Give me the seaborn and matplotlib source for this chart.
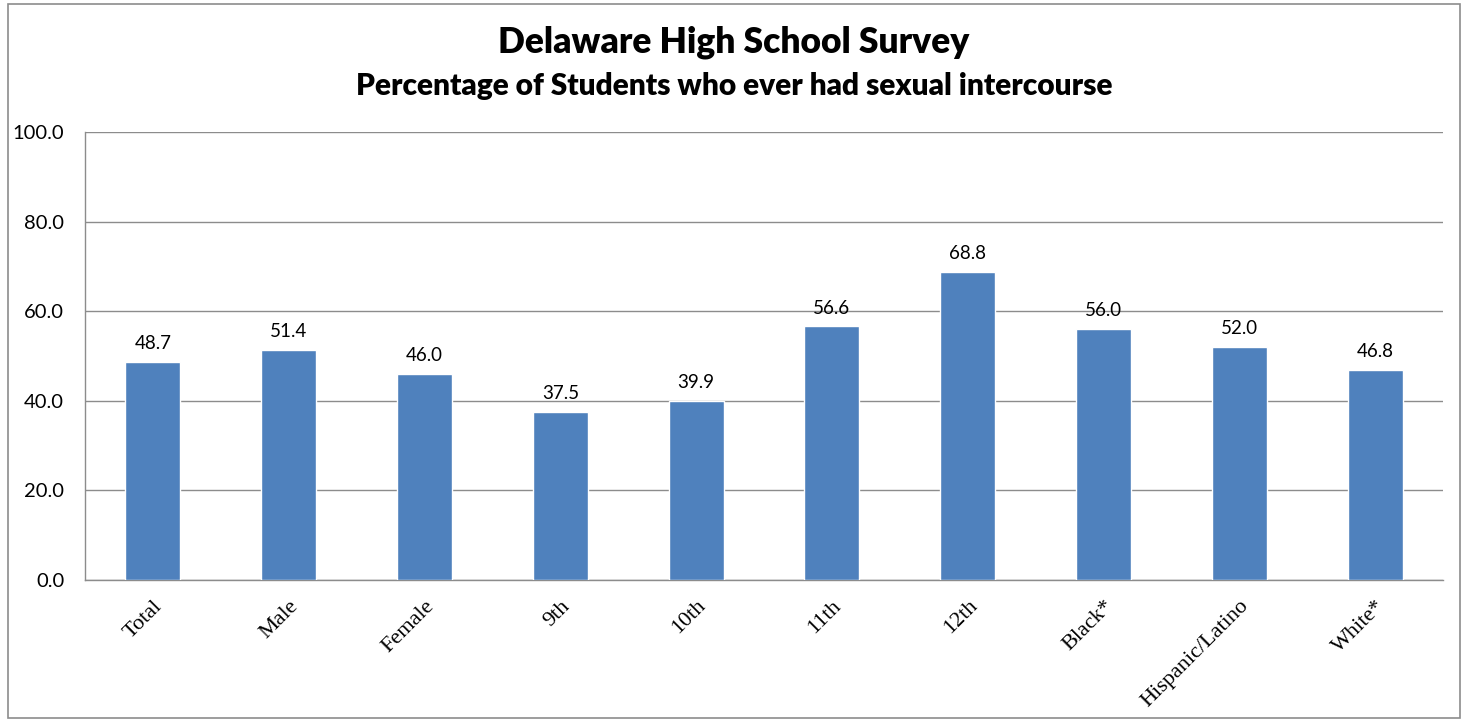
import numpy as np
import pandas as pd
import matplotlib
matplotlib.use("Agg")
import matplotlib.pyplot as plt
import seaborn as sns
from matplotlib.patches import Rectangle

# data
groups = ['Total', 'Male', 'Female', '9th', '10th', '11th', '12th',
          'Black*', 'Hispanic/Latino', 'White*']
percent = [48.7, 51.4, 46.0, 37.5, 39.9, 56.6, 68.8, 56.0, 52.0, 46.8]
y_ticks = [0, 20, 40, 60, 80, 100]

title = 'Delaware High School Survey'
subtitle = 'Percentage of Students who ever had sexual intercourse'

df = pd.DataFrame({'group': groups, 'percent': percent})

sns.set_style('white')
plt.rcParams['font.family'] = ['Lato', 'DejaVu Sans']
plt.rcParams['text.color'] = 'black'
plt.rcParams['xtick.color'] = 'black'
plt.rcParams['ytick.color'] = 'black'

fig = plt.figure(figsize=(14.68, 7.22), dpi=100)
ax = fig.add_axes([85 / 1468, 1 - 580 / 722, (1443 - 85) / 1468, (580 - 132) / 722])

sns.barplot(data=df, x='group', y='percent', color='#4F81BD', saturation=1,
            width=0.405, ax=ax, zorder=3)

ax.set_ylim(0, 100)
ax.set_xlim(-0.5, len(groups) - 0.5)
ax.set_yticks(y_ticks)
ax.set_yticklabels([f'{v:.1f}' for v in y_ticks], fontsize=14.5)
ax.yaxis.grid(True, color='#8c8c8c', linewidth=1.0, zorder=0)
ax.set_xlabel('')
ax.set_ylabel('')

for side in ['top', 'right']:
    ax.spines[side].set_visible(False)
for side in ['left', 'bottom']:
    ax.spines[side].set_color('#8c8c8c')
    ax.spines[side].set_linewidth(1.0)

# category labels, serif, rotated
ax.set_xticks(range(len(groups)))
ax.set_xticklabels(groups, rotation=45, ha='right', rotation_mode='anchor',
                   family=['Liberation Serif'], fontsize=16)
ax.tick_params(axis='x', which='major', length=0, pad=12)
ax.set_xticks(np.arange(-0.5, len(groups), 1), minor=True)
ax.tick_params(axis='x', which='minor', length=6, color='#8c8c8c', width=1)
ax.tick_params(axis='y', length=6, color='#8c8c8c', labelcolor='black', width=1, pad=9)

for i, v in enumerate(percent):
    ax.text(i, v + 2.2, f'{v:.1f}', ha='center', va='bottom', fontsize=13.5)

fig.text(0.5, 1 - 42 / 722, title, ha='center', va='center',
         fontsize=25.5, fontweight='heavy')
fig.text(0.5, 1 - 86 / 722, subtitle, ha='center', va='center',
         fontsize=21.5, fontweight='heavy')

fig.patches.append(Rectangle((8 / 1468, 4 / 722), 1452 / 1468, 714 / 722,
                             transform=fig.transFigure, fill=False,
                             edgecolor='#8c8c8c', linewidth=1.2))

fig.savefig('out.png', dpi=100, facecolor='white')
